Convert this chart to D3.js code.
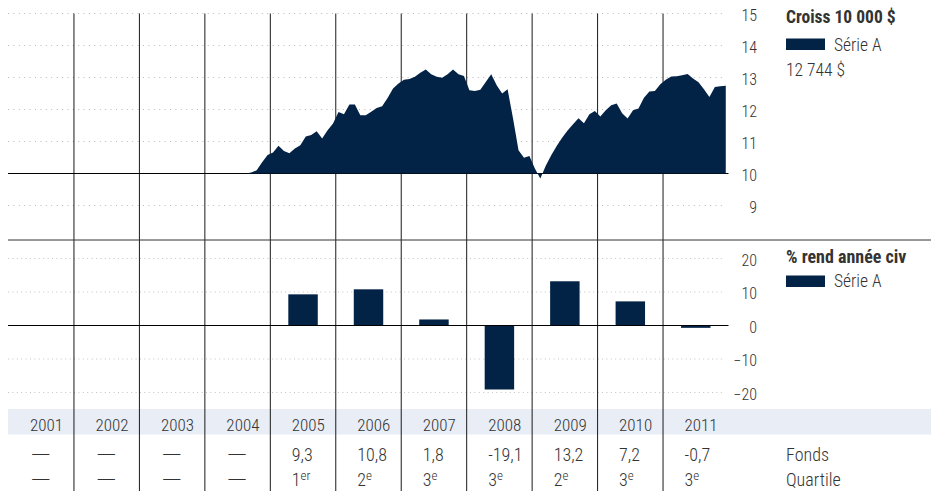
<!DOCTYPE html>
<html>
<head>
<meta charset="utf-8">
<script src="https://cdn.jsdelivr.net/npm/d3@7"></script>
<style>
  html, body { margin: 0; padding: 0; background: #fff; }
  svg { display: block; }
  text { font-family: "Roboto Condensed", "Liberation Sans Narrow", "DejaVu Sans Condensed", "Arial Narrow", sans-serif; font-weight: 300; fill: #333; }
</style>
</head>
<body>
<svg id="chart" width="931" height="491"></svg>
<script>
// Calendar years shown as columns
const years = [2001, 2002, 2003, 2004, 2005, 2006, 2007, 2008, 2009, 2010, 2011];

// Growth of 10 000 $ (in thousands), monthly from Aug 2004 to Dec 2011
const growthStart = { year: 2004, month: 7 }; // month index, 0 = January
const growthValues = [
  10.00, 10.03, 10.10, 10.35, 10.58,
  10.66, 10.87, 10.70, 10.63, 10.78, 10.88, 11.16, 11.20, 11.32, 11.09, 11.35, 11.56,
  11.92, 11.85, 12.16, 12.16, 11.82, 11.82, 11.93, 12.05, 12.10, 12.36, 12.66, 12.81,
  12.93, 12.95, 13.02, 13.15, 13.25, 13.10, 13.02, 12.99, 13.10, 13.25, 13.10, 13.05,
  12.60, 12.58, 12.62, 12.86, 13.10, 12.76, 12.50, 12.63, 11.72, 10.73, 10.49, 10.55,
  10.16, 9.84, 10.24, 10.57, 10.86, 11.12, 11.34, 11.54, 11.73, 11.57, 11.85, 11.95,
  11.78, 11.98, 12.13, 12.19, 11.88, 11.72, 11.98, 12.03, 12.37, 12.56, 12.58, 12.79,
  12.93, 13.03, 13.04, 13.07, 13.11, 12.97, 12.85, 12.63, 12.39, 12.70, 12.73, 12.744
];

// Calendar-year returns (%) and quartile ranks
const annualReturns = [null, null, null, null, 9.3, 10.8, 1.8, -19.1, 13.2, 7.2, -0.7];
const quartiles = [null, null, null, null, 1, 2, 3, 3, 2, 3, 3];

// Axis ticks
const growthTicks = [9, 10, 11, 12, 13, 14, 15];
const returnTicks = [-20, -10, 0, 10, 20];

// Texts
const growthTitle = "Croiss 10 000 $";
const returnTitle = "% rend année civ";
const seriesName = "Série A";
const finalValueLabel = "12 744 $";
const rowLabels = ["Fonds", "Quartile"];

const NAVY = "#022246";
const W = 931, H = 491;
const left = 8.5, right = 728.5;

const svg = d3.select("#chart");

// Column scale for years
const xCol = d3.scaleBand().domain(years).range([left, right]).padding(0);
const xBar = d3.scaleBand().domain(years).range([left, right]).paddingInner(0.55).paddingOuter(0.275);
// Continuous time scale (fractional years) for the monthly area
const xTime = d3.scaleLinear().domain([years[0], years[years.length - 1] + 1]).range([left, right]);

const yGrowth = d3.scaleLinear().domain([9, 15]).range([205.5, 13.5]);
const yReturn = d3.scaleLinear().domain([-20, 20]).range([392.5, 258.5]);

const gridRight = 725;

// Year band
svg.append("rect")
  .attr("x", 8).attr("y", 409).attr("width", W - 8).attr("height", 25.5)
  .attr("fill", "#e8edf6");

// Dotted gridlines - growth panel
svg.append("g").selectAll("line")
  .data(growthTicks.filter(d => d !== 10))
  .join("line")
  .attr("x1", 8).attr("x2", gridRight)
  .attr("y1", d => yGrowth(d)).attr("y2", d => yGrowth(d))
  .attr("stroke", "#b8b8b8").attr("stroke-width", 1)
  .attr("stroke-dasharray", "1,4.4");

// Dotted gridlines - returns panel
svg.append("g").selectAll("line")
  .data(returnTicks.filter(d => d !== 0))
  .join("line")
  .attr("x1", 8).attr("x2", gridRight)
  .attr("y1", d => yReturn(d)).attr("y2", d => yReturn(d))
  .attr("stroke", "#c4c4c4").attr("stroke-width", 1)
  .attr("stroke-dasharray", "1,3.4");

// Column separators
svg.append("g").selectAll("line")
  .data(years.slice(1))
  .join("line")
  .attr("x1", d => xCol(d)).attr("x2", d => xCol(d))
  .attr("y1", 13.5).attr("y2", H)
  .attr("stroke", "#1a1a1a").attr("stroke-width", 1);

// Baseline of the growth panel (10 000 $)
svg.append("line")
  .attr("x1", 8).attr("x2", right)
  .attr("y1", yGrowth(10)).attr("y2", yGrowth(10))
  .attr("stroke", "#000").attr("stroke-width", 1);

// Growth area
const growthData = growthValues.map((v, i) => {
  const m = growthStart.month + i;
  return { t: growthStart.year + (m + 0.5) / 12, v };
});
const area = d3.area()
  .x(d => xTime(d.t))
  .y0(yGrowth(10))
  .y1(d => yGrowth(d.v));
svg.append("path")
  .datum(growthData)
  .attr("d", area)
  .attr("fill", NAVY);

// Returns bars
const barData = years.map((y, i) => ({ year: y, v: annualReturns[i] })).filter(d => d.v !== null);
svg.append("g").selectAll("rect")
  .data(barData)
  .join("rect")
  .attr("x", d => xBar(d.year))
  .attr("width", xBar.bandwidth())
  .attr("y", d => yReturn(Math.max(0, d.v)))
  .attr("height", d => Math.abs(yReturn(d.v) - yReturn(0)))
  .attr("fill", NAVY);

// Zero line of returns panel
svg.append("line")
  .attr("x1", 8).attr("x2", right)
  .attr("y1", yReturn(0)).attr("y2", yReturn(0))
  .attr("stroke", "#000").attr("stroke-width", 1);

// Divider between panels
svg.append("line")
  .attr("x1", 8).attr("x2", W)
  .attr("y1", 240).attr("y2", 240)
  .attr("stroke", "#333").attr("stroke-width", 1);

// Right-hand axes
function styleAxis(g) {
  g.select(".domain").remove();
  g.selectAll(".tick line").remove();
  g.selectAll(".tick text")
    .attr("text-anchor", "end")
    .attr("x", 0)
    .attr("dy", "0.42em")
    .style("font-size", "16px")
    .attr("fill", "#333");
  g.attr("font-family", null).attr("font-size", null);
}
svg.append("g")
  .attr("transform", "translate(757,0)")
  .call(d3.axisRight(yGrowth).tickValues(growthTicks).tickSize(0).tickPadding(0).tickFormat(d3.format("d")))
  .call(styleAxis);
svg.append("g")
  .attr("transform", "translate(757,0)")
  .call(d3.axisRight(yReturn).tickValues(returnTicks).tickSize(0).tickPadding(0).tickFormat(d3.format("d")))
  .call(styleAxis);

// Legends
const legendX = 786;
function legend(title, titleY, swatchY, nameY, titleSize) {
  svg.append("text")
    .attr("x", legendX).attr("y", titleY)
    .style("font-size", titleSize).style("font-weight", "700")
    .attr("fill", "#111")
    .text(title);
  svg.append("rect")
    .attr("x", legendX).attr("y", swatchY)
    .attr("width", 39).attr("height", 11.5)
    .attr("fill", NAVY);
  svg.append("text")
    .attr("x", 834).attr("y", nameY)
    .style("font-size", "17.5px")
    .text(seriesName);
}
legend(growthTitle, 23, 38.5, 50.5, "17.5px");
svg.append("text")
  .attr("x", legendX).attr("y", 76)
  .style("font-size", "17.5px")
  .text(finalValueLabel);
legend(returnTitle, 262.5, 275.5, 287, "18px");

// Table: years, fund returns and quartiles
const textOffset = 21.5;
const row1Y = 461, row2Y = 486;
const fmtReturn = v => d3.format(".1f")(v).replace(".", ",").replace("−", "-");

svg.append("g").selectAll("text")
  .data(years)
  .join("text")
  .attr("x", d => xCol(d) + textOffset)
  .attr("y", 431)
  .style("font-size", "17px")
  .text(d => d);

const rows = years.map((y, i) => ({ year: y, r: annualReturns[i], q: quartiles[i] }));

function dashIfEmpty(sel, valueOf) {
  sel.each(function(d) {
    if (valueOf(d) !== null) return;
    d3.select(this).text("—")
      .attr("textLength", 21)
      .attr("lengthAdjust", "spacingAndGlyphs")
      .attr("fill", "#555");
  });
}

// Fund return row
const fundRow = svg.append("g").selectAll("text")
  .data(rows)
  .join("text")
  .attr("x", d => xCol(d.year) + textOffset)
  .attr("y", row1Y)
  .style("font-size", "18px")
  .attr("fill", "#333")
  .text(d => d.r === null ? "" : fmtReturn(d.r));
dashIfEmpty(fundRow, d => d.r);

// Quartile row
const qRow = svg.append("g").selectAll("text")
  .data(rows)
  .join("text")
  .attr("x", d => xCol(d.year) + textOffset)
  .attr("y", row2Y)
  .style("font-size", "18px")
  .attr("fill", "#333");
qRow.each(function(d) {
  if (d.q === null) return;
  const t = d3.select(this);
  t.append("tspan").text(d.q);
  t.append("tspan")
    .attr("dy", "-6")
    .style("font-size", "13px")
    .text(d.q === 1 ? "er" : "e");
});
dashIfEmpty(qRow, d => d.q);

// Row labels
rowLabels.forEach((label, i) => {
  svg.append("text")
    .attr("x", legendX).attr("y", i === 0 ? row1Y : row2Y)
    .style("font-size", "18px")
    .text(label);
});
</script>
</body>
</html>
